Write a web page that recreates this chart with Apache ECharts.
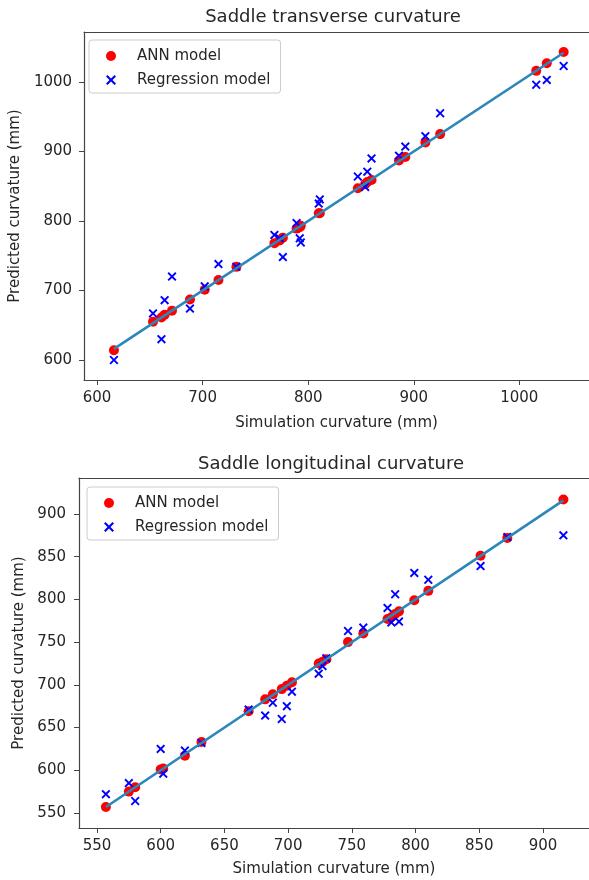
<!DOCTYPE html>
<html>
<head>
<meta charset="utf-8">
<script src="https://cdn.jsdelivr.net/npm/echarts@6/dist/echarts.min.js"></script>
<style>
  html, body { margin: 0; padding: 0; background: #fff; }
  #chart { width: 589px; height: 880px; }
</style>
</head>
<body>
<div id="chart"></div>
<script>
// Saddle transverse curvature: simulation vs predicted (mm)
const transSim = [616, 653, 661, 664, 671, 688, 702, 715, 732, 768, 773, 776, 789, 792, 793, 810, 811, 847, 854, 856, 860, 886, 892, 911, 925, 1016, 1026, 1042];
const transANN = [614, 655, 661, 665, 671, 687, 701, 715, 734, 768, 772, 776, 789, 791, 793, 811, 811, 847, 853, 856, 859, 887, 892, 913, 925, 1016, 1027, 1043];
const transReg = [600, 667, 630, 686, 720, 674, 706, 738, 734, 780, 775, 748, 797, 775, 769, 825, 831, 864, 849, 871, 890, 894, 907, 922, 955, 996, 1003, 1023];

// Saddle longitudinal curvature: simulation vs predicted (mm)
const longSim = [557, 575, 580, 600, 602, 619, 632, 669, 682, 688, 695, 699, 703, 724, 727, 730, 747, 759, 778, 781, 784, 787, 799, 810, 851, 872, 916];
const longANN = [557, 575, 580, 601, 602, 617, 633, 669, 683, 689, 695, 699, 703, 725, 727, 730, 750, 760, 777, 779, 783, 786, 799, 810, 851, 872, 917];
const longReg = [572, 585, 564, 625, 596, 623, 632, 671, 664, 679, 660, 675, 692, 713, 722, 731, 763, 767, 790, 773, 806, 774, 831, 823, 839, 873, 875];

// Tick labels
const transTicks = [600, 700, 800, 900, 1000];
const longTicks = [550, 600, 650, 700, 750, 800, 850, 900];

const FONT = 'DejaVu Sans';
const TXT = '#262626';
const AXIS = '#444444';
const crossPath = 'path://M0,1.5L1.5,0L5,3.5L8.5,0L10,1.5L6.5,5L10,8.5L8.5,10L5,6.5L1.5,10L0,8.5L3.5,5Z';

// Axis extents; the plots run off the right edge of the page
const transX = [587.7, 1066.0], transY = [571.2, 1071.9];
const longX = [535.9, 936.1], longY = [532.4, 942.1];

function pairs(xs, ys) { return xs.map((x, i) => [x, ys[i]]); }
function diagonal(xs) {
  const lo = Math.min(...xs), hi = Math.max(...xs);
  return [[lo, lo], [hi, hi]];
}
const plainNum = v => String(v);
const spine = { show: true, onZero: false, lineStyle: { color: AXIS, width: 1.2 } };

function xAxisCfg(idx, ext, ticks, gap) {
  return {
    type: 'value', gridIndex: idx, min: ext[0], max: ext[1], position: 'bottom',
    name: 'Simulation curvature (mm)', nameLocation: 'middle', nameGap: gap,
    nameTextStyle: { fontFamily: FONT, fontSize: 15, color: TXT },
    axisLine: spine,
    axisTick: { show: true, inside: false, length: 5, customValues: ticks, lineStyle: { color: AXIS, width: 1 } },
    axisLabel: { customValues: ticks, formatter: plainNum, margin: 11, fontFamily: FONT, fontSize: 15, color: TXT },
    splitLine: { show: false }
  };
}
function topSpine(idx, ext) {
  return {
    type: 'value', gridIndex: idx, min: ext[0], max: ext[1], position: 'top',
    axisLine: spine, axisTick: { show: false }, axisLabel: { show: false }, splitLine: { show: false }
  };
}
function yAxisCfg(idx, ext, ticks, gap, labelGap) {
  return {
    type: 'value', gridIndex: idx, min: ext[0], max: ext[1],
    name: 'Predicted curvature (mm)', nameLocation: 'middle', nameGap: gap, nameRotate: 90,
    nameTextStyle: { fontFamily: FONT, fontSize: 15, color: TXT },
    axisLine: spine,
    axisTick: { show: true, inside: false, length: 5, customValues: ticks, lineStyle: { color: AXIS, width: 1 } },
    axisLabel: { customValues: ticks, formatter: plainNum, margin: labelGap, fontFamily: FONT, fontSize: 15, color: TXT },
    splitLine: { show: false }
  };
}
function legendCfg(left, top) {
  return {
    left: left, top: top, orient: 'vertical',
    selectedMode: false,
    padding: [8, 10, 5, 17],
    itemWidth: 10, itemHeight: 10, itemGap: 8,
    borderColor: '#cccccc', borderWidth: 1, borderRadius: 3,
    backgroundColor: 'rgba(255,255,255,0.8)',
    textStyle: { fontFamily: FONT, fontSize: 15, color: TXT, lineHeight: 16, padding: [0, 0, 0, 16] },
    data: [
      { name: 'ANN model', icon: 'circle', itemStyle: { color: '#ff0000' } },
      { name: 'Regression model', icon: crossPath, itemStyle: { color: '#0000ff' } }
    ]
  };
}
function scatterPair(idx, sim, ann, reg) {
  return [
    { name: 'ANN model', type: 'scatter', xAxisIndex: idx, yAxisIndex: idx,
      symbol: 'circle', symbolSize: 10, itemStyle: { color: '#ff0000', opacity: 1 },
      data: pairs(sim, ann), silent: true },
    { name: 'Regression model', type: 'scatter', xAxisIndex: idx, yAxisIndex: idx,
      symbol: crossPath, symbolSize: 9, itemStyle: { color: '#0000ff', opacity: 1 },
      data: pairs(sim, reg), silent: true },
    { name: 'fit', type: 'line', xAxisIndex: idx, yAxisIndex: idx,
      data: diagonal(sim), showSymbol: false, symbol: 'none', silent: true,
      lineStyle: { color: '#2b86ba', width: 2.6 } }
  ];
}

const chart = echarts.init(document.getElementById('chart'), null, { renderer: 'canvas' });
chart.setOption({
  animation: false,
  backgroundColor: '#ffffff',
  title: [
    { text: 'Saddle transverse curvature', left: 333, top: 8, textAlign: 'center', padding: 0,
      textStyle: { fontFamily: FONT, fontSize: 18, fontWeight: 'normal', color: TXT } },
    { text: 'Saddle longitudinal curvature', left: 331, top: 455, textAlign: 'center', padding: 0,
      textStyle: { fontFamily: FONT, fontSize: 18, fontWeight: 'normal', color: TXT } }
  ],
  legend: [legendCfg(89, 40), legendCfg(87, 487)],
  grid: [
    { left: 82, top: 32, width: 507, height: 348, show: false },
    { left: 79, top: 478, width: 510, height: 350, show: false }
  ],
  xAxis: [
    xAxisCfg(0, transX, transTicks, 36),
    xAxisCfg(1, longX, longTicks, 34),
    topSpine(0, transX),
    topSpine(1, longX)
  ],
  yAxis: [
    yAxisCfg(0, transY, transTicks, 49, 12),
    yAxisCfg(1, longY, longTicks, 46, 13)
  ],
  series: [].concat(
    scatterPair(0, transSim, transANN, transReg),
    scatterPair(1, longSim, longANN, longReg)
  )
});
</script>
</body>
</html>
